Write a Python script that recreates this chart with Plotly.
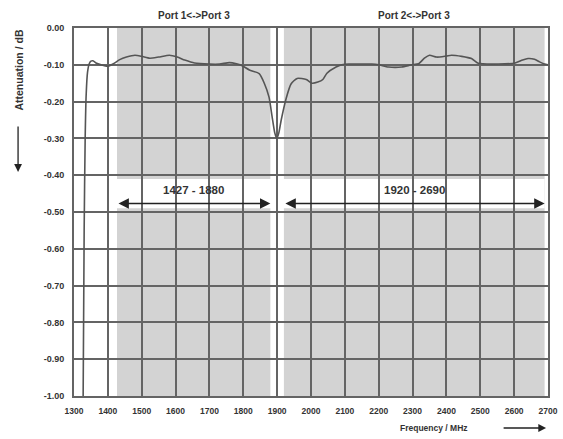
import plotly.graph_objects as go

# ---- data ----
freq_mhz = [1327, 1330, 1333, 1336, 1340, 1345, 1350, 1356, 1365, 1380, 1400, 1415, 1435, 1455,
            1480, 1500, 1524, 1550, 1582, 1605, 1627, 1656, 1700, 1730, 1759, 1780, 1794, 1818,
            1847, 1862, 1876, 1885, 1893, 1899, 1905, 1912, 1927, 1941, 1959, 1986, 2003, 2020,
            2035, 2047, 2074, 2091, 2112, 2150, 2180, 2200, 2229, 2268, 2297, 2318, 2335, 2350,
            2371, 2400, 2415, 2445, 2474, 2494, 2553, 2603, 2625, 2641, 2660, 2675, 2690, 2700]
atten_db = [-1.00, -0.55, -0.30, -0.18, -0.12, -0.097, -0.090, -0.089, -0.095, -0.100, -0.104,
            -0.098, -0.086, -0.079, -0.074, -0.077, -0.082, -0.079, -0.074, -0.079, -0.087,
            -0.095, -0.098, -0.098, -0.094, -0.097, -0.101, -0.114, -0.124, -0.150, -0.188,
            -0.240, -0.285, -0.300, -0.285, -0.250, -0.190, -0.152, -0.137, -0.140, -0.150,
            -0.147, -0.140, -0.123, -0.106, -0.100, -0.098, -0.098, -0.098, -0.100, -0.106,
            -0.106, -0.100, -0.097, -0.082, -0.074, -0.079, -0.076, -0.074, -0.077, -0.083,
            -0.096, -0.098, -0.095, -0.087, -0.083, -0.085, -0.092, -0.098, -0.100]

bands = [(1427, 1880), (1920, 2690)]
band_labels = ["1427 - 1880", "1920 - 2690"]
port_titles = ["Port 1<->Port 3", "Port 2<->Port 3"]

x_ticks = list(range(1300, 2701, 100))
x_tick_labels = [str(v) for v in x_ticks]
y_ticks = [round(-0.1 * i, 2) for i in range(0, 11)]
y_tick_labels = ["0.00"] + ["-%.2f" % (-v) for v in y_ticks[1:]]

# ---- figure ----
txt = "#333333"
grid = "#646464"
shade = "#d3d3d3"

fig = go.Figure()
fig.add_trace(go.Scatter(x=freq_mhz, y=atten_db, mode="lines",
                         line=dict(color="#555555", width=1.6, shape="spline", smoothing=0.6),
                         hoverinfo="skip", showlegend=False))

shapes = []
for lo, hi in bands:
    shapes.append(dict(type="rect", xref="x", yref="y", x0=lo, x1=hi, y0=-1.0, y1=0.0,
                       fillcolor=shade, line=dict(width=0), layer="below"))
# white band behind the range arrows
shapes.append(dict(type="rect", xref="x", yref="y", x0=bands[0][0], x1=bands[1][1],
                   y0=-0.49, y1=-0.41, fillcolor="white", line=dict(width=0), layer="below"))
fig.update_layout(shapes=shapes)

ann = []
for (lo, hi), lab, pt in zip(bands, band_labels, port_titles):
    mid = (lo + hi) / 2
    ann.append(dict(x=hi, y=-0.477, ax=lo, ay=-0.477, xref="x", yref="y", axref="x", ayref="y",
                    text="", showarrow=True, arrowhead=2, arrowside="end+start",
                    arrowsize=1.3, arrowwidth=1.6, arrowcolor="#222222", standoff=0, startstandoff=0))
    ann.append(dict(x=mid, y=-0.44, xref="x", yref="y", text=lab, showarrow=False,
                    xanchor="center", yanchor="middle",
                    font=dict(size=11.5, color=txt, family="Liberation Sans", weight="bold")))
    ann.append(dict(x=mid, y=1.0, xref="x", yref="paper", yanchor="bottom", xanchor="center",
                    yshift=5, text=pt, showarrow=False,
                    font=dict(size=10, color=txt, family="Liberation Sans", weight="bold")))

# axis titles with arrows
ann.append(dict(x=-0.118, y=1.0, xref="paper", yref="paper", text="Attenuation / dB",
                textangle=-90, showarrow=False, xanchor="center", yanchor="top",
                font=dict(size=10.5, color=txt, family="Liberation Sans", weight="bold")))
ann.append(dict(x=-0.118, y=0.609, xref="paper", yref="paper", ax=0, ay=-47, text="",
                showarrow=True, arrowhead=2, arrowsize=1.2, arrowwidth=1.3, arrowcolor="#222222"))
ann.append(dict(x=0.76, y=-0.087, xref="paper", yref="paper", text="Frequency / MHz",
                showarrow=False, xanchor="center", yanchor="middle",
                font=dict(size=8.5, color=txt, family="Liberation Sans", weight="bold")))
ann.append(dict(x=0.996, y=-0.087, xref="paper", yref="paper", ax=-44, ay=0, text="",
                showarrow=True, arrowhead=2, arrowsize=1.2, arrowwidth=1.3, arrowcolor="#222222"))
fig.update_layout(annotations=ann)

axis_common = dict(showgrid=True, gridcolor=grid, gridwidth=2, zeroline=False,
                   showline=True, linecolor=grid, linewidth=2, mirror=True, automargin=False,
                   ticks="outside", ticklen=6, tickcolor="rgba(0,0,0,0)")
fig.update_xaxes(range=[1300, 2700], tickvals=x_ticks, ticktext=x_tick_labels,
                 ticklabeloverflow="allow",
                 tickfont=dict(size=8.5, color=txt, family="Liberation Sans", weight="bold"),
                 **axis_common)
fig.update_yaxes(range=[-1.0, 0.0], tickvals=y_ticks, ticktext=y_tick_labels,
                 tickfont=dict(size=9, color=txt, family="Liberation Sans", weight="bold"),
                 **axis_common)

fig.update_layout(width=563, height=439, margin=dict(l=74, r=15, t=28, b=43, autoexpand=False),
                  paper_bgcolor="white", plot_bgcolor="white", showlegend=False)

# remove the default 8px page margin so the figure fills the window exactly
fig.write_html("out.html", config={"displayModeBar": False},
               post_script="document.body.style.margin='0';")
